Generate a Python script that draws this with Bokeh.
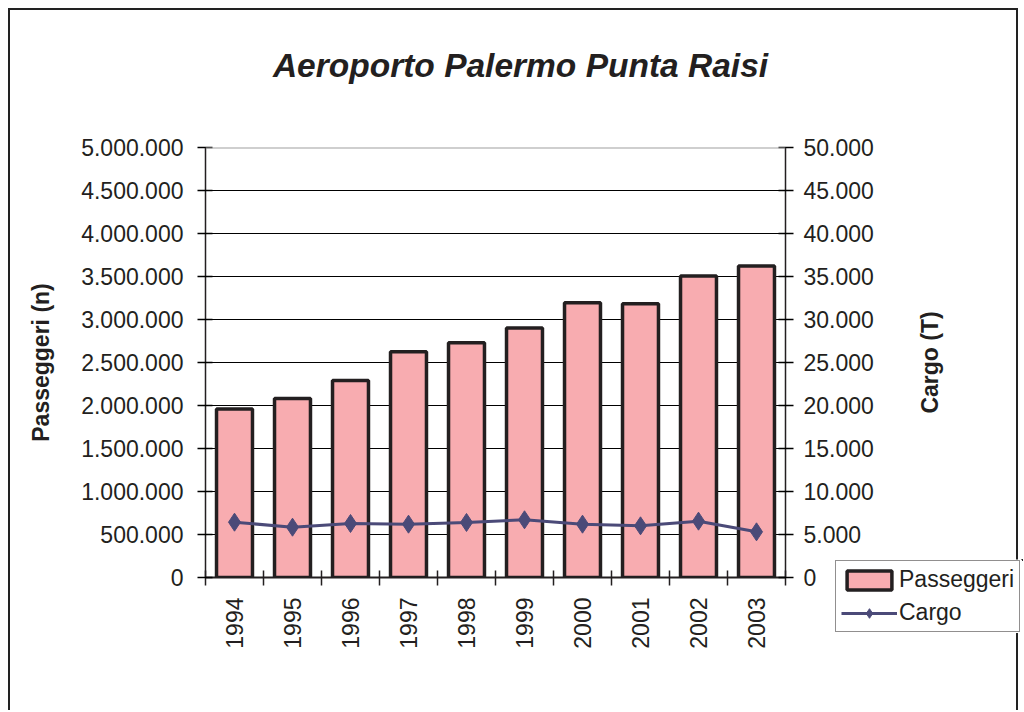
import math
from bokeh.plotting import figure
from bokeh.models import (Range1d, LinearAxis, FixedTicker, SingleIntervalTicker,
                          CustomJSTickFormatter, Legend, LegendItem, ColumnDataSource, Span, Label)
from bokeh.embed import file_html
from bokeh.resources import INLINE

# ---- data ----
years = ["1994", "1995", "1996", "1997", "1998", "1999", "2000", "2001", "2002", "2003"]
passeggeri = [1960000, 2080000, 2290000, 2625000, 2730000, 2900000, 3195000, 3182000, 3505000, 3622000]
cargo = [6430, 5850, 6280, 6200, 6400, 6710, 6200, 6010, 6550, 5310]

pax_max = 5000000
cargo_max = 50000

title_text = "Aeroporto Palermo Punta Raisi"
left_label = "Passeggeri (n)"
right_label = "Cargo (T)"
series_names = ["Passeggeri", "Cargo"]

FONT = "Liberation Sans"
BAR_FILL = "#F8ACB0"
EDGE = "#231F20"
LINE_COL = "#4B4A78"

xpos = [i + 0.5 for i in range(len(years))]
src = ColumnDataSource(dict(x=xpos, year=years, pax=passeggeri, cargo=cargo))

p = figure(width=1010, height=702, output_backend="svg", toolbar_location=None,
           x_range=Range1d(0, len(years)), y_range=Range1d(0, pax_max),
           min_border_left=195, min_border_right=235, min_border_top=137,
           min_border_bottom=135, background_fill_color="white",
           border_fill_color="white")
p.styles = {"margin-left": "8px", "margin-top": "8px",
            "border-top": "2px solid #222", "border-left": "2px solid #222",
            "border-right": "2px solid #222"}
p.outline_line_color = None

p.extra_y_ranges = {"cargo": Range1d(0, cargo_max)}

fmt_code = "return Math.round(tick).toString().replace(/\\B(?=(\\d{3})+(?!\\d))/g, '.');"

# grid
p.xgrid.visible = False
p.ygrid.grid_line_color = "black"
p.ygrid.grid_line_width = 1
top_span = Span(location=pax_max, dimension="width", line_color="#A0A0A0", line_width=2)
p.add_layout(top_span)

# bars
bars = p.vbar(x="x", top="pax", width=0.62, source=src, fill_color=BAR_FILL,
              line_color=EDGE, line_width=3.5)

# cargo
r_line = p.line("x", "cargo", source=src, y_range_name="cargo", line_color=LINE_COL, line_width=3)
r_pts = p.scatter("x", "cargo", source=src, y_range_name="cargo", marker="diamond", size=18,
                  fill_color=LINE_COL, line_color=LINE_COL)

# left axis
ax_l = p.yaxis[0]
ax_l.ticker = SingleIntervalTicker(interval=500000, num_minor_ticks=0)
ax_l.formatter = CustomJSTickFormatter(code=fmt_code)
ax_l.axis_label = left_label
ax_l.axis_label_text_font = FONT
ax_l.axis_label_text_font_size = "23px"
ax_l.axis_label_text_font_style = "bold"
ax_l.axis_label_text_color = "#231F20"
ax_l.axis_label_standoff = 24
ax_l.major_label_text_font = FONT
ax_l.major_label_text_font_size = "23px"
ax_l.major_label_text_color = "#231F20"
ax_l.major_label_standoff = 14
ax_l.major_tick_in = 7
ax_l.major_tick_out = 8
ax_l.major_tick_line_width = 1.5
ax_l.minor_tick_line_color = None
ax_l.axis_line_width = 1.5
ax_l.axis_line_color = EDGE

# right axis
ax_r = LinearAxis(y_range_name="cargo",
                  ticker=SingleIntervalTicker(interval=5000, num_minor_ticks=0),
                  formatter=CustomJSTickFormatter(code=fmt_code))
ax_r.major_label_text_font = FONT
ax_r.major_label_text_font_size = "23px"
ax_r.major_label_text_color = "#231F20"
ax_r.major_label_standoff = 10
ax_r.major_tick_in = 7
ax_r.major_tick_out = 8
ax_r.major_tick_line_width = 1.5
ax_r.minor_tick_line_color = None
ax_r.axis_line_width = 1.5
ax_r.axis_line_color = EDGE
p.add_layout(ax_r, "right")

# x axis
ax_x = p.xaxis[0]
ax_x.ticker = FixedTicker(ticks=xpos, minor_ticks=list(range(len(years) + 1)))
ax_x.formatter = CustomJSTickFormatter(args=dict(years=years), code="return years[Math.floor(tick)];")
ax_x.major_tick_line_color = None
ax_x.major_tick_in = 0
ax_x.major_tick_out = 8
ax_x.minor_tick_line_color = EDGE
ax_x.minor_tick_line_width = 1.5
ax_x.minor_tick_in = 7
ax_x.minor_tick_out = 8
ax_x.major_label_orientation = math.pi / 2
ax_x.major_label_text_font = FONT
ax_x.major_label_text_font_size = "23px"
ax_x.major_label_text_color = "#231F20"
ax_x.major_label_standoff = 12
ax_x.axis_line_width = 2
ax_x.axis_line_color = EDGE


def overlay(width, height, left, top):
    f = figure(width=width, height=height, output_backend="svg", toolbar_location=None,
               x_range=Range1d(0, 1), y_range=Range1d(0, 1),
               x_axis_location=None, y_axis_location=None, min_border=0,
               background_fill_alpha=0, border_fill_alpha=0)
    f.outline_line_color = None
    f.grid.visible = False
    f.styles = {"position": "absolute", "left": f"{left}px", "top": f"{top}px"}
    return f


# ---- title: overlay centred above the plot ----
tfig = overlay(560, 50, 240, 40)
tfig.add_layout(Label(x=0.5, y=0.5, text=title_text, text_align="center",
                      text_baseline="middle", text_font=FONT, text_font_size="33.5px",
                      text_font_style="bold italic", text_color="#231F20"))

# ---- right axis title (reads bottom to top) ----
rfig = overlay(40, 130, 909, 297)
rfig.add_layout(Label(x=0.5, y=0.5, text=right_label, angle=math.pi / 2,
                      text_align="center", text_baseline="middle", text_font=FONT,
                      text_font_size="23px", text_font_style="bold", text_color="#231F20"))

# ---- legend: small overlay figure over the chart's lower-right corner ----
leg = figure(width=189, height=74, output_backend="svg", toolbar_location=None,
             x_range=Range1d(-3, -2), y_range=Range1d(-3, -2),
             x_axis_location=None, y_axis_location=None,
             min_border=0, background_fill_color="white", border_fill_color="white")
leg.outline_line_color = None
leg.grid.visible = False
leg.styles = {"position": "absolute", "left": "834px", "top": "559px"}
lb = leg.vbar(x="x", top="pax", width=0.62, source=src, fill_color=BAR_FILL,
              line_color=EDGE, line_width=3.5)
ll = leg.line("x", "cargo", source=src, line_color=LINE_COL, line_width=3)
lp = leg.scatter("x", "cargo", source=src, marker="diamond", size=14,
                 fill_color=LINE_COL, line_color=LINE_COL)
legend = Legend(items=[LegendItem(label=series_names[0], renderers=[lb]),
                       LegendItem(label=series_names[1], renderers=[ll, lp])],
                location="top_left", orientation="vertical")
legend.border_line_color = EDGE
legend.border_line_width = 1.5
legend.background_fill_color = "white"
legend.background_fill_alpha = 1
legend.label_text_font = FONT
legend.label_text_font_size = "23px"
legend.label_text_color = "#231F20"
legend.glyph_width = 56
legend.glyph_height = 24
legend.padding = 5
legend.spacing = 6
legend.label_standoff = 2
legend.margin = 1
leg.add_layout(legend)

open("out.html", "w").write(file_html([p, tfig, rfig, leg], INLINE))
